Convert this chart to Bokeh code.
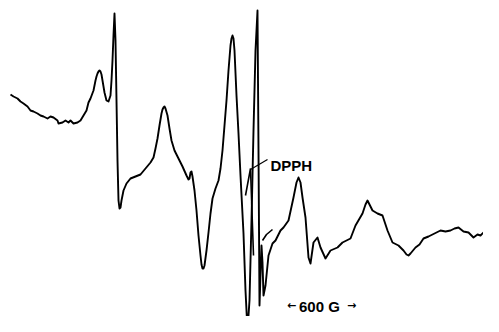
from bokeh.plotting import figure
from bokeh.models import Range1d
from bokeh.core.properties import value
from bokeh.embed import file_html
from bokeh.resources import INLINE

# EPR trace: field position (arbitrary units) and pen deflection (downward positive)
field = [10, 13, 17, 20, 23, 27, 30, 33, 37, 40, 43, 47, 50, 53, 57, 58, 62, 65, 68, 70,
         73, 77, 80, 83, 86, 88, 90, 93, 95, 96, 97, 98, 99, 100, 101, 102, 104, 106, 108, 110, 111, 112, 113,
         114, 115, 116, 117, 118, 119, 120, 121, 123, 126, 130, 135, 140, 145, 150, 153, 155, 157, 159, 161, 162, 163,
         164, 165, 167, 169, 171, 174, 178, 182, 186, 188, 189, 190, 191, 192, 194, 196, 198, 200, 201, 202, 203, 204, 206, 208,
         210, 212, 215, 218, 220, 222, 224, 226, 228, 230, 231, 232, 233, 234, 236, 238, 240, 243, 245, 247, 249, 251,
         253, 255, 257, 258, 259, 261, 262, 263, 265, 268, 272, 275, 280, 283, 288, 293, 296, 298, 300, 302, 305, 308,
         310, 313, 317, 320, 325, 330, 337, 342, 350, 355, 362, 365, 367, 369, 372, 377, 382, 387, 392, 398, 403, 406, 408,
         410, 415, 419, 423, 428, 432, 436, 440, 445, 450, 454, 458, 463, 468, 473, 477, 480, 484, 487, 491, 495, 499]
deflection = [94, 96, 98, 101, 103, 106, 110, 111, 113, 115, 116, 118, 116, 117, 120, 123, 122, 120, 122, 120,
              123, 122, 120, 115, 110, 102, 98, 90, 80, 76, 73, 71, 70, 71, 74, 80, 92, 100, 101, 95, 80, 60, 35,
              13, 40, 100, 160, 200, 208, 207, 200, 190, 183, 178, 176, 174, 168, 162, 157, 148, 138, 125, 113, 109, 107,
              106, 108, 115, 128, 140, 150, 158, 166, 175, 179, 178, 172, 171, 176, 190, 210, 235, 255, 264, 268, 268, 265, 250, 232,
              213, 198, 188, 180, 168, 150, 125, 100, 70, 45, 38, 35, 38, 50, 95, 133, 175, 233, 290, 330, 300, 220,
              130, 50, 10, 150, 305, 245, 262, 295, 285, 255, 243, 240, 230, 227, 220, 197, 182, 177, 182, 197, 217, 257,
              263, 242, 237, 247, 258, 250, 247, 242, 238, 225, 213, 204, 200, 204, 210, 213, 215, 230, 242, 245, 250, 254, 255,
              253, 247, 244, 238, 236, 234, 232, 230, 231, 230, 228, 227, 231, 232, 237, 234, 235, 231, 228, 227, 227, 229]

# DPPH marker strokes
dpph_field = [245, 250, 253]
dpph_deflection = [195, 168, 255]
arc_field = [262, 266, 272]
arc_deflection = [240, 234, 229]
leader_field = [250, 267]
leader_deflection = [169, 159]

p = figure(width=483, height=316, output_backend="svg", toolbar_location=None,
           x_range=Range1d(0, 483), y_range=Range1d(316, 0), min_border=0,
           min_border_left=0, min_border_right=0, min_border_top=0, min_border_bottom=0)
p.xaxis.visible = False
p.yaxis.visible = False
p.xgrid.visible = False
p.ygrid.visible = False
p.outline_line_color = None
p.background_fill_color = "white"
p.border_fill_color = "white"

p.line(field, deflection, line_color="black", line_width=1.9, line_join="round")
p.line(dpph_field, dpph_deflection, line_color="black", line_width=1.6)
p.line(arc_field, arc_deflection, line_color="black", line_width=1.6)
p.line(leader_field, leader_deflection, line_color="black", line_width=1.2)

p.text(x=[270], y=[165], text=["DPPH"], text_font=value("Liberation Sans"),
       text_font_style="bold", text_font_size="15px", text_baseline="alphabetic",
       text_align="left", text_color="black")
p.text(x=[321], y=[306], text=["600  G"], text_font=value("Liberation Sans"),
       text_font_style="bold", text_font_size="15px", text_baseline="alphabetic",
       text_align="center", text_color="black")
p.text(x=[291, 351], y=[305, 305], text=["\u2190", "\u2192"], text_font=value("DejaVu Sans"),
       text_font_size="11px", text_font_style="bold", text_baseline="middle",
       text_align="center", text_color="black")

open("out.html", "w").write(file_html(p, INLINE))
